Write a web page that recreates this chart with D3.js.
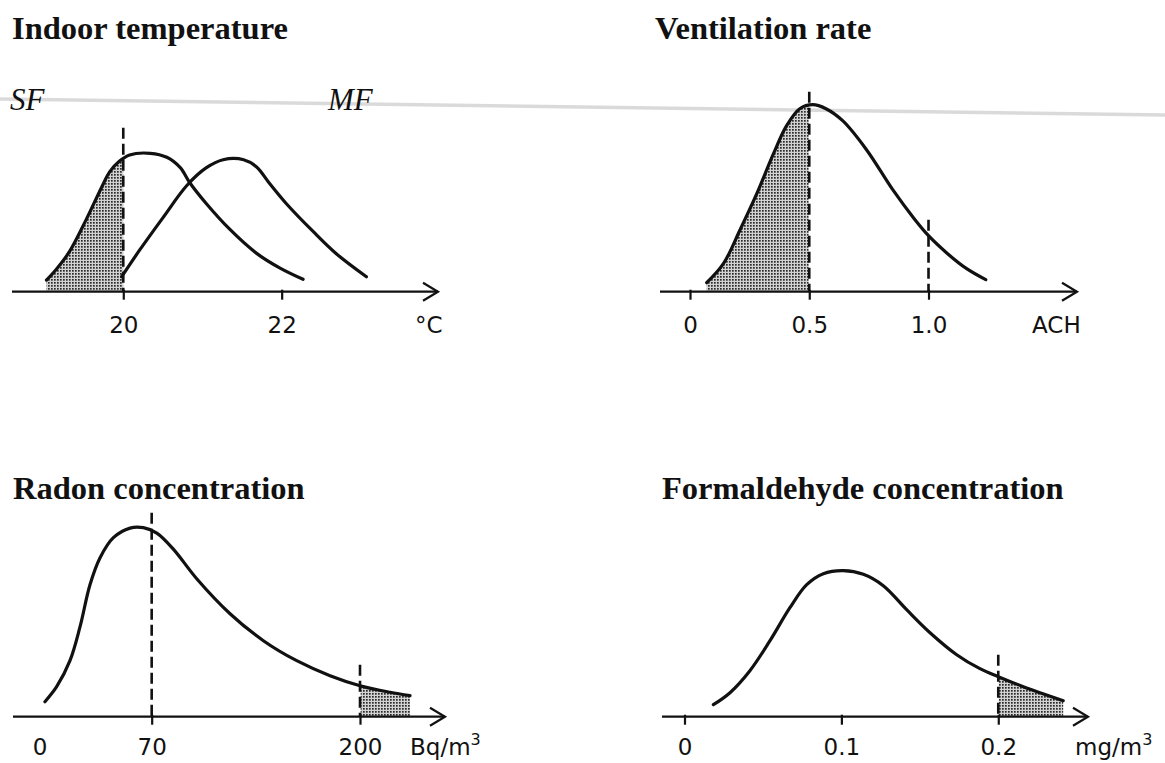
<!DOCTYPE html>
<html>
<head>
<meta charset="utf-8">
<script src="https://cdn.jsdelivr.net/npm/d3@7"></script>
<style>
  body { margin: 0; background: #fff; }
  svg { display: block; }
</style>
</head>
<body>
<svg id="chart" width="1165" height="763"></svg>
<script>
// ---- Indoor temperature (°C): single-family (SF) and multi-family (MF) dwellings
const tempTicks = [20, 22];
const tempTickLabels = ["20", "22"];
const tempSF = [[19.03,0.058],[19.15,0.11],[19.32,0.2],[19.53,0.359],[19.73,0.525],[19.83,0.60],[19.95,0.652],[20.08,0.684],[20.34,0.692],[20.55,0.672],[20.72,0.62],[20.84,0.545],[21.05,0.44],[21.35,0.31],[21.68,0.193],[21.98,0.118],[22.27,0.062]];
const tempMF = [[19.98,0.075],[20.21,0.21],[20.51,0.375],[20.80,0.53],[21.05,0.62],[21.26,0.66],[21.52,0.66],[21.68,0.625],[21.85,0.54],[22.06,0.44],[22.40,0.30],[22.69,0.19],[23.07,0.075]];
const tempLimits = [[20, 0.82]];

// ---- Ventilation rate (air changes per hour)
const achTicks = [0, 0.5, 1.0];
const achTickLabels = ["0", "0.5", "1.0"];
const achCurve = [[0.07,0.045],[0.14,0.14],[0.21,0.31],[0.28,0.49],[0.35,0.69],[0.405,0.83],[0.46,0.915],[0.515,0.935],[0.57,0.915],[0.64,0.855],[0.74,0.71],[0.85,0.51],[0.94,0.365],[1.0,0.28],[1.08,0.19],[1.16,0.115],[1.24,0.06]];
const achLimits = [[0.5, 1.0], [1.0, 0.36]];

// ---- Radon concentration (Bq/m3)
const radonTicks = [0, 70, 200];
const radonTickLabels = ["0", "70", "200"];
const radonCurve = [[3.4,0.075],[10.7,0.15],[19,0.28],[25.3,0.45],[31.5,0.66],[37.8,0.795],[46.1,0.895],[56.5,0.943],[64.8,0.945],[73.2,0.918],[83.5,0.838],[98.1,0.69],[118.9,0.515],[139.7,0.38],[160.5,0.28],[181.3,0.205],[200,0.155],[218.7,0.122],[231.2,0.105]];
const radonLimits = [[70, 1.02], [200, 0.26]];

// ---- Formaldehyde concentration (mg/m3)
const hchoTicks = [0, 0.1, 0.2];
const hchoTickLabels = ["0", "0.1", "0.2"];
const hchoCurve = [[0.0184,0.06],[0.029,0.12],[0.0417,0.23],[0.0545,0.38],[0.0672,0.545],[0.0779,0.66],[0.0885,0.715],[0.1012,0.73],[0.114,0.712],[0.1267,0.655],[0.1416,0.535],[0.1565,0.42],[0.1735,0.31],[0.1883,0.24],[0.2,0.20],[0.216,0.15],[0.2414,0.08]];
const hchoLimits = [[0.2, 0.31]];

const svg = d3.select("#chart");
svg.append("rect").attr("width", 1165).attr("height", 763).attr("fill", "#fff");

// stippled fill for the shaded tails
const defs = svg.append("defs");
const pat = defs.append("pattern").attr("id", "stipple")
  .attr("patternUnits", "userSpaceOnUse").attr("width", 3).attr("height", 3);
pat.append("rect").attr("width", 3).attr("height", 3).attr("fill", "#d2d2d2");
pat.append("rect").attr("width", 1.7).attr("height", 1.7).attr("fill", "#2a2a2a");

// faint horizontal streak across the upper half of the sheet
svg.append("line").attr("x1", 0).attr("y1", 99).attr("x2", 1165).attr("y2", 115)
  .attr("stroke", "#d2d2d2").attr("stroke-width", 3.5).attr("opacity", 0.8);

const panels = [
  { title: "Indoor temperature", tx: 12, ty: 39, axisY: 291.7, range: [12, 438], domain: [18.595, 23.974],
    ticks: tempTicks, labels: tempTickLabels, marks: [true, true], labelDy: 41,
    unit: ["°C"], unitX: 415, curves: [tempSF, tempMF], shade: { curve: 0, from: -Infinity, to: 20 },
    limits: tempLimits, tags: [["SF", 10], ["MF", 328]] },
  { title: "Ventilation rate", tx: 655, ty: 39, axisY: 291.7, range: [660, 1077], domain: [-0.1258, 1.6226],
    ticks: achTicks, labels: achTickLabels, marks: [true, true, true], labelDy: 41,
    unit: ["ACH"], unitX: 1032, curves: [achCurve], shade: { curve: 0, from: -Infinity, to: 0.5 },
    limits: achLimits, tags: [] },
  { title: "Radon concentration", tx: 13, ty: 499, axisY: 716.7, range: [13, 445], domain: [-16.54, 253.04],
    ticks: radonTicks, labels: radonTickLabels, marks: [false, true, true], labelDy: 38,
    unit: ["Bq/m", "3"], unitX: 410, curves: [radonCurve], shade: { curve: 0, from: 200, to: Infinity },
    limits: radonLimits, tags: [] },
  { title: "Formaldehyde concentration", tx: 662, ty: 499, axisY: 716.7, range: [662, 1088], domain: [-0.01434, 0.2572],
    ticks: hchoTicks, labels: hchoTickLabels, marks: [true, true, true], labelDy: 38,
    unit: ["mg/m", "3"], unitX: 1075, curves: [hchoCurve], shade: { curve: 0, from: 0.2, to: Infinity },
    limits: hchoLimits, tags: [] }
];

const ink = "#111";

panels.forEach(p => {
  const g = svg.append("g");
  const x = d3.scaleLinear().domain(p.domain).range(p.range);
  const y = d3.scaleLinear().domain([0, 1]).range([p.axisY, p.axisY - 200]);

  // title
  g.append("text").attr("x", p.tx).attr("y", p.ty)
    .attr("font-family", "'Liberation Serif', 'Times New Roman', serif")
    .attr("font-weight", "bold").attr("font-size", 32.5).attr("fill", ink)
    .text(p.title);

  // series tags
  p.tags.forEach(([t, tx]) => {
    g.append("text").attr("x", tx).attr("y", 110)
      .attr("font-family", "'Liberation Serif', 'Times New Roman', serif")
      .attr("font-style", "italic").attr("font-size", 31).attr("fill", ink)
      .text(t);
  });

  const shadeLayer = g.append("g");
  const lineLayer = g.append("g");

  const line = d3.line()
    .x(d => x(d[0])).y(d => y(d[1]))
    .curve(d3.curveCatmullRom.alpha(0.5));

  const paths = p.curves.map(c =>
    lineLayer.append("path").attr("d", line(c))
      .attr("fill", "none").attr("stroke", ink).attr("stroke-width", 3.2)
      .attr("stroke-linecap", "round").attr("stroke-linejoin", "round")
  );

  // shaded tail: sample the drawn curve between the bounds
  const node = paths[p.shade.curve].node();
  const len = node.getTotalLength();
  const xa = p.shade.from === -Infinity ? -Infinity : x(p.shade.from);
  const xb = p.shade.to === Infinity ? Infinity : x(p.shade.to);
  const pts = [];
  for (let i = 0; i <= 800; i++) {
    const pt = node.getPointAtLength(len * i / 800);
    if (pt.x >= xa && pt.x <= xb) pts.push([pt.x, pt.y]);
  }
  const area = d3.area().x(d => d[0]).y0(p.axisY).y1(d => d[1]);
  shadeLayer.append("path").attr("d", area(pts)).attr("fill", "url(#stipple)");

  // reference (dashed) lines
  p.limits.forEach(([v, top]) => {
    lineLayer.append("line")
      .attr("x1", x(v)).attr("x2", x(v)).attr("y1", y(top)).attr("y2", p.axisY)
      .attr("stroke", ink).attr("stroke-width", 2.6).attr("stroke-dasharray", "11,5");
  });

  // axis line with open arrowhead
  const [r0, r1] = p.range;
  g.append("line").attr("x1", r0).attr("x2", r1).attr("y1", p.axisY).attr("y2", p.axisY)
    .attr("stroke", ink).attr("stroke-width", 2.2);
  g.append("path")
    .attr("d", `M${r1 - 15},${p.axisY - 9}L${r1},${p.axisY}L${r1 - 15},${p.axisY + 9}`)
    .attr("fill", "none").attr("stroke", ink).attr("stroke-width", 2.2)
    .attr("stroke-linejoin", "miter");

  // ticks and labels
  const axis = d3.axisBottom(x).tickValues(p.ticks).tickSize(8)
    .tickFormat((d, i) => p.labels[i]);
  const ag = g.append("g").attr("transform", `translate(0,${p.axisY})`).call(axis);
  ag.select(".domain").remove();
  ag.selectAll(".tick line")
    .attr("y1", -2).attr("stroke", ink).attr("stroke-width", 2.2)
    .attr("opacity", (d, i) => p.marks[i] ? 1 : 0);
  ag.selectAll(".tick text")
    .attr("y", p.labelDy).attr("dy", null)
    .attr("font-family", "'DejaVu Sans', sans-serif").attr("font-size", 23)
    .attr("fill", ink);

  // unit label
  const u = g.append("text").attr("x", p.unitX).attr("y", p.axisY + p.labelDy)
    .attr("font-family", "'DejaVu Sans', sans-serif").attr("font-size", 23).attr("fill", ink);
  u.append("tspan").text(p.unit[0]);
  if (p.unit[1]) u.append("tspan").attr("dy", -10).attr("font-size", 16).text(p.unit[1]);
});
</script>
</body>
</html>
